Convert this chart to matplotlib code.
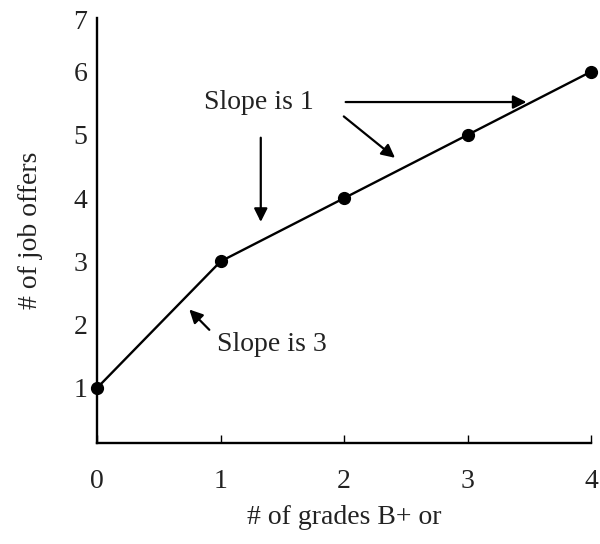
import matplotlib
matplotlib.use("Agg")
import matplotlib.pyplot as plt

# data
grades = [0, 1, 2, 3, 4]
offers = [1, 3, 4, 5, 6]
ytick_vals = [1, 2, 3, 4, 5, 6, 6.82]
ytick_labels = ["1", "2", "3", "4", "5", "6", "7"]
xtick_vals = [0, 1, 2, 3, 4]

plt.rcParams["font.family"] = ["Liberation Serif", "DejaVu Serif"]

fig = plt.figure(figsize=(6.0, 5.44), dpi=100)
ax = fig.add_axes([0.162, 0.186, 0.823, 0.781])

ax.plot(grades, offers, color="black", lw=1.7, marker="o", ms=8.5, clip_on=False, zorder=3)

ax.set_xlim(0, 4)
ax.set_ylim(0.13, 6.85)
ax.spines["top"].set_visible(False)
ax.spines["right"].set_visible(False)
for s in ("left", "bottom"):
    ax.spines[s].set_linewidth(1.7)

ax.set_xticks(xtick_vals)
ax.set_xticklabels([str(v) for v in xtick_vals], fontsize=20, color="#222222")
ax.tick_params(axis="x", direction="in", length=6, width=1, pad=19)
ax.set_yticks(ytick_vals)
ax.set_yticklabels(ytick_labels, fontsize=20, color="#222222")
ax.tick_params(axis="y", length=0, pad=7)

ax.set_xlabel("# of grades B+ or", fontsize=20, color="#222222", labelpad=8)
ax.set_ylabel("# of job offers", fontsize=20, color="#222222", labelpad=22)

arrow_kw = dict(arrowstyle="-|>", color="black", lw=1.6, mutation_scale=20)

ax.text(0.867, 5.51, "Slope is 1", fontsize=20, ha="left", va="center", color="#222222")
ax.annotate("", xy=(3.50, 5.52), xytext=(1.99, 5.52), arrowprops=arrow_kw)
ax.annotate("", xy=(2.43, 4.61), xytext=(1.98, 5.32), arrowprops=arrow_kw)
ax.annotate("", xy=(1.325, 3.58), xytext=(1.325, 5.0), arrowprops=arrow_kw)

ax.text(0.972, 1.68, "Slope is 3", fontsize=20, ha="left", va="center", color="#222222")
ax.annotate("", xy=(0.73, 2.27), xytext=(0.924, 1.886), arrowprops=arrow_kw)

fig.savefig("out.png", dpi=100)
